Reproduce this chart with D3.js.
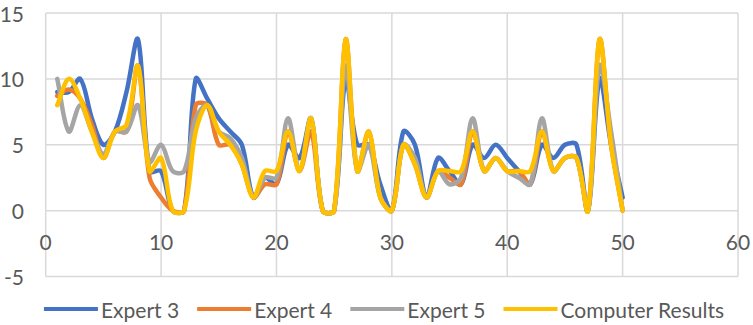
<!DOCTYPE html>
<html>
<head>
<meta charset="utf-8">
<script src="https://cdn.jsdelivr.net/npm/d3@7"></script>
<style>
  html, body { margin: 0; padding: 0; background: #fff; }
  svg { display: block; font-family: Lato, "Open Sans", sans-serif; }
  .tick-label, .legend-label { fill: #595959; font-size: 21px; }
</style>
</head>
<body>
<div id="chart"></div>
<script>
// Expert ratings vs computer results — smoothed lines, x = item 1..50

const xValues = d3.range(1, 51);

const expert3 = [9, 9, 10, 7, 5, 6, 9, 13, 3, 3,
  0, 0, 10, 8.5, 7, 6, 5, 1, 2.5, 2,
  5, 4, 7, 0, 0, 10, 5, 5, 2, 0,
  6, 5, 1, 4, 3, 2, 5, 4, 5, 4,
  3, 2, 5, 4, 5, 5, 0, 10, 5, 1];

const expert4 = [8.7, 9.2, 8.5, 6.5, 4, 6, 6, 11, 2.5, 1,
  0, 0, 8, 8, 5, 5, 3.5, 1, 2, 2,
  6, 3, 6, 0, 0, 13, 3, 6, 1, 0,
  5, 3.5, 1, 3, 2.5, 2, 6, 3, 4, 3,
  3, 2, 6, 3, 4, 4, 0, 13, 5, 0];

const expert5 = [10, 6, 8, 6, 4.3, 6, 6, 8, 3.7, 5,
  3, 3, 7, 8, 6, 5.5, 4, 1, 2.5, 2.5,
  7, 3, 7, 0, 0, 11, 3, 5, 1, 0,
  5, 4, 1, 3, 2, 2.5, 7, 3, 4, 3,
  2.5, 2, 7, 3, 4, 4, 0, 11, 6, 0];

const computerResults = [8, 10, 8.5, 6, 4, 6, 6.5, 11, 3, 4,
  0, 0, 6, 8, 6, 5, 3.5, 1, 3, 3,
  6, 3, 7, 0, 0, 13, 3, 6, 1, 0,
  5, 3.5, 1, 3, 3, 3, 6, 3, 4, 3,
  3, 3, 6, 3, 4, 4, 0, 13, 5, 0];

const seriesNames = ["Expert 3", "Expert 4", "Expert 5", "Computer Results"];
const seriesColors = ["#4472c4", "#ed7d31", "#a5a5a5", "#ffc000"];
const yTicks = [-5, 0, 5, 10, 15];
const xTicks = [0, 10, 20, 30, 40, 50, 60];

const W = 753, H = 325;
const svg = d3.select("#chart").append("svg").attr("width", W).attr("height", H);

const x = d3.scaleLinear().domain([0, 60]).range([45.7, 738]);
const y = d3.scaleLinear().domain([-5, 15]).range([276.5, 13]);

// Excel-style smoothing: Catmull-Rom tangents, but each control arm is
// weighted by the segment's share of the chord, so short flat bits barely overshoot.
function excelSmooth(context) {
  let pts;
  const dist = (a, b) => Math.hypot(b[0] - a[0], b[1] - a[1]);
  return {
    areaStart() {}, areaEnd() {},
    lineStart() { pts = []; },
    point(px, py) { pts.push([px, py]); },
    lineEnd() {
      const n = pts.length;
      if (!n) return;
      context.moveTo(pts[0][0], pts[0][1]);
      for (let i = 0; i < n - 1; i++) {
        const p0 = pts[i - 1] || pts[i], p1 = pts[i], p2 = pts[i + 1], p3 = pts[i + 2] || pts[i + 1];
        const d0 = dist(p0, p1), d1 = dist(p1, p2), d2 = dist(p2, p3);
        const f1 = d0 + d1 ? d1 / (d0 + d1) / 3 : 0;
        const f2 = d1 + d2 ? d1 / (d1 + d2) / 3 : 0;
        context.bezierCurveTo(
          p1[0] + (p2[0] - p0[0]) * f1, p1[1] + (p2[1] - p0[1]) * f1,
          p2[0] - (p3[0] - p1[0]) * f2, p2[1] - (p3[1] - p1[1]) * f2,
          p2[0], p2[1]);
      }
    }
  };
}

// gridlines
const grid = svg.append("g").attr("stroke", "#d9d9d9").attr("stroke-width", 1.5);
grid.selectAll("line.h").data(yTicks).join("line").attr("class", "h")
  .attr("x1", x(0)).attr("x2", x(60))
  .attr("y1", d => y(d)).attr("y2", d => y(d));
grid.selectAll("line.v").data(xTicks).join("line").attr("class", "v")
  .attr("x1", d => x(d)).attr("x2", d => x(d))
  .attr("y1", y(15)).attr("y2", y(-5));

// tick labels
svg.append("g").selectAll("text").data(yTicks).join("text")
  .attr("class", "tick-label")
  .attr("x", 24).attr("y", d => y(d))
  .attr("text-anchor", "end").attr("dominant-baseline", "central")
  .text(d => d);
svg.append("g").selectAll("text").data(xTicks).join("text")
  .attr("class", "tick-label")
  .attr("x", d => x(d)).attr("y", 241)
  .attr("text-anchor", "middle").attr("dominant-baseline", "central")
  .text(d => d);

// lines
const series = [expert3, expert4, expert5, computerResults];
const line = d3.line()
  .x((d, i) => x(xValues[i]))
  .y(d => y(d))
  .curve(excelSmooth);

svg.append("g").selectAll("path").data(series).join("path")
  .attr("d", line)
  .attr("fill", "none")
  .attr("stroke", (d, i) => seriesColors[i])
  .attr("stroke-width", 4.5)
  .attr("stroke-linejoin", "round")
  .attr("stroke-linecap", "round");

// legend, centred under the plot
const legend = svg.append("g");
const items = legend.selectAll("g").data(seriesNames).join("g");
items.append("line")
  .attr("x1", 0).attr("x2", 54).attr("y1", 0).attr("y2", 0)
  .attr("stroke", (d, i) => seriesColors[i]).attr("stroke-width", 4);
items.append("text").attr("class", "legend-label")
  .attr("x", 57).attr("y", 0).attr("dominant-baseline", "central")
  .text(d => d);

let cx = 0;
items.each(function () {
  const w = d3.select(this).select("text").node().getComputedTextLength();
  d3.select(this).attr("transform", `translate(${cx},0)`);
  cx += 57 + w + 18;
});
const total = cx - 18;
legend.attr("transform", `translate(${384 - total / 2},309)`);
</script>
</body>
</html>
